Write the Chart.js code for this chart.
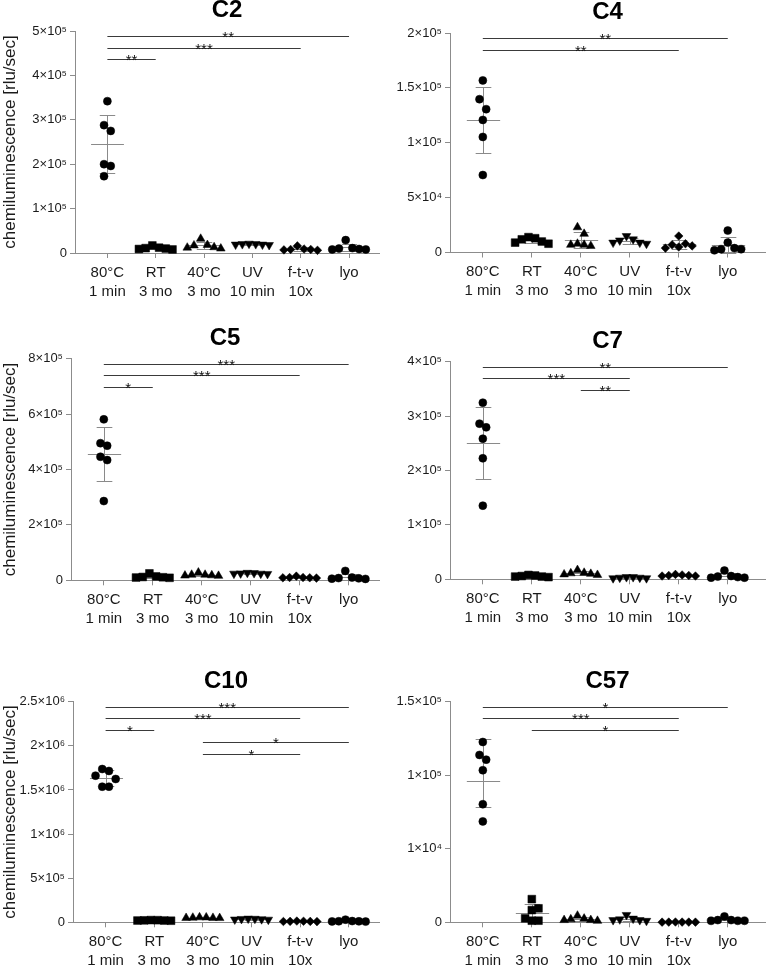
<!DOCTYPE html>
<html>
<head>
<meta charset="utf-8">
<script src="https://cdn.jsdelivr.net/npm/chart.js@4.4.1/dist/chart.umd.min.js"></script>
<style>
  html, body { margin: 0; padding: 0; background: #fff; }
  #wrap { position: relative; width: 771px; height: 966px; overflow: hidden; }
  #wrap canvas { position: absolute; }
</style>
</head>
<body>
<div id="wrap"></div>
<script>
// categories (x axis, two-line labels)
const groups = [['80°C', '1 min'], ['RT', '3 mo'], ['40°C', '3 mo'], ['UV', '10 min'], ['f-t-v', '10x'], ['lyo']];

// C2 - one row per group, six replicates each
const c2Values = [
  [3.42e5, 2.88e5, 2.75e5, 2.00e5, 1.96e5, 1.73e5],
  [1.7e4, 1.0e4, 0.9e4, 1.1e4, 0.8e4, 1.2e4],
  [1.0e4, 1.3e4, 1.2e4, 3.2e4, 1.8e4, 1.7e4],
  [2.0e4, 1.9e4, 2.1e4, 1.8e4, 2.0e4, 1.9e4],
  [0.6e4, 0.8e4, 0.7e4, 1.6e4, 0.9e4, 0.8e4],
  [2.9e4, 0.8e4, 0.9e4, 1.0e4, 1.1e4, 0.8e4]
];
const c2Ticks = [0, 1e5, 2e5, 3e5, 4e5, 5e5];
const c2Stars = [[0, 5, '**'], [0, 4, '***'], [0, 1, '**']];

// C4
const c4Values = [
  [1.568e5, 1.397e5, 1.306e5, 1.208e5, 1.053e5, 0.706e5],
  [1.0e4, 0.8e4, 1.4e4, 1.2e4, 0.9e4, 1.3e4],
  [2.3e4, 1.7e4, 0.7e4, 0.7e4, 0.6e4, 0.8e4],
  [1.1e4, 0.9e4, 0.8e4, 1.2e4, 1.5e4, 0.9e4],
  [0.8e4, 0.4e4, 0.6e4, 0.7e4, 1.5e4, 0.5e4],
  [2.0e4, 0.9e4, 0.3e4, 0.2e4, 0.3e4, 0.4e4]
];
const c4Ticks = [0, 5e4, 1e5, 1.5e5, 2e5];
const c4Stars = [[0, 5, '**'], [0, 4, '**']];

// C5
const c5Values = [
  [5.81e5, 4.95e5, 4.86e5, 4.46e5, 4.34e5, 2.86e5],
  [1.0e4, 1.2e4, 0.9e4, 1.4e4, 2.5e4, 1.1e4],
  [1.6e4, 1.8e4, 2.0e4, 2.8e4, 1.7e4, 2.0e4],
  [2.4e4, 2.6e4, 2.3e4, 2.7e4, 2.5e4, 2.4e4],
  [0.8e4, 1.0e4, 0.9e4, 1.5e4, 0.9e4, 1.0e4],
  [3.4e4, 0.6e4, 0.5e4, 0.7e4, 0.8e4, 1.0e4]
];
const c5Ticks = [0, 2e5, 4e5, 6e5, 8e5];
const c5Stars = [[0, 5, '***'], [0, 4, '***'], [0, 1, '*']];

// C7
const c7Values = [
  [3.247e5, 2.861e5, 2.793e5, 2.585e5, 2.224e5, 1.354e5],
  [0.5e4, 0.6e4, 0.4e4, 0.8e4, 0.7e4, 0.5e4],
  [0.9e4, 1.2e4, 0.8e4, 1.7e4, 1.0e4, 1.1e4],
  [0.2e4, 0.3e4, 0.3e4, 0.4e4, 0.2e4, 0.4e4],
  [0.6e4, 0.8e4, 0.7e4, 0.9e4, 0.6e4, 0.7e4],
  [1.6e4, 0.3e4, 0.4e4, 0.3e4, 0.5e4, 0.6e4]
];
const c7Ticks = [0, 1e5, 2e5, 3e5, 4e5];
const c7Stars = [[0, 5, '**'], [0, 3, '***'], [2, 3, '**']];

// C10
const c10Values = [
  [1.737e6, 1.715e6, 1.662e6, 1.624e6, 1.537e6, 1.537e6],
  [2.0e4, 2.5e4, 1.8e4, 2.2e4, 2.4e4, 2.0e4],
  [5.0e4, 5.5e4, 4.8e4, 5.2e4, 5.6e4, 4.9e4],
  [3.5e4, 4.0e4, 3.0e4, 3.8e4, 4.2e4, 3.2e4],
  [1.0e4, 0.8e4, 1.2e4, 0.9e4, 1.4e4, 1.1e4],
  [3.0e4, 1.0e4, 0.8e4, 1.2e4, 1.4e4, 1.1e4]
];
const c10Ticks = [0, 5e5, 1e6, 1.5e6, 2e6, 2.5e6];
const c10Stars = [[0, 5, '***'], [0, 4, '***'], [0, 1, '*'], [2, 5, '*'], [2, 4, '*']];

// C57 (segmented y axis: each tick interval gets the same height)
const c57Values = [
  [1.226e5, 1.138e5, 1.106e5, 1.034e5, 6.45e4, 4.35e4],
  [3150, 1900, 1660, 540, 220, 220],
  [500, 300, 200, 900, 400, 300],
  [300, 200, 400, 1000, 300, 500],
  [30, 20, 40, 30, 20, 30],
  [200, 300, 200, 800, 300, 200]
];
const c57Ticks = [0, 1e4, 1e5, 1.5e5];
const c57Stars = [[0, 5, '*'], [0, 4, '***'], [1, 4, '*']];

const yTitle = 'chemiluminescence [rlu/sec]';

// ---- styling ----
const FONT = "'Liberation Sans', Arial, sans-serif";
const AXIS = '#8c8c8c';
const INK = '#1a1a1a';
const shapes = ['circle', 'rect', 'triangle', 'triangle', 'rectRot', 'circle'];
const rotations = [0, 0, 0, 180, 0, 0];
const radii = [4, 5.5, 5, 5, 4.3, 4];
const X_MIN = -0.67;

Chart.defaults.font.family = FONT;

const LinearScale = Chart.LinearScale || Chart.scales.LinearScale;
class SegmentedScale extends LinearScale {
  static id = 'segmented';
  getPixelForValue(value) {
    return this.getPixelForDecimal(segDecimal(c57Ticks, value));
  }
}
Chart.register(SegmentedScale);

function segDecimal(b, value) {
  const n = b.length - 1;
  const v = Math.max(b[0], Math.min(b[n], value));
  let i = 0;
  while (i < n - 1 && v > b[i + 1]) i++;
  return (i + (v - b[i]) / (b[i + 1] - b[i])) / n;
}

const supDigits = { '0': '⁰', '1': '¹', '2': '²', '3': '³', '4': '⁴', '5': '⁵', '6': '⁶', '7': '⁷', '8': '⁸', '9': '⁹' };
function sci(v) {
  if (v === 0) return '0';
  const e = Math.floor(Math.log10(v) + 1e-9);
  const m = Math.round(v / Math.pow(10, e) * 10) / 10;
  return m + '×10' + String(e).split('').map(c => supDigits[c]).join('');
}

// simple beeswarm: push points that sit too close sideways, then centre each cluster
function swarm(values, toPx, unitPx, step, vThr) {
  const order = values.map((v, i) => i).sort((a, b) => values[b] - values[a]);
  const placed = [];
  const off = values.map(() => 0);
  const py = values.map(v => toPx(v));
  for (const i of order) {
    for (let k = 0; k < 30; k++) {
      const c = (k % 2 ? 1 : -1) * Math.ceil(k / 2) * step;
      const hit = placed.some(p => Math.abs(p.x - c) < step * 0.99 && Math.abs(p.y - py[i]) < vThr);
      if (!hit) {
        off[i] = c;
        placed.push({ x: c, y: py[i] });
        break;
      }
    }
  }
  const byY = values.map((v, i) => i).sort((a, b) => py[a] - py[b]);
  let cluster = [byY[0]];
  const flush = () => {
    const xs = cluster.map(i => off[i]);
    const shift = (Math.min(...xs) + Math.max(...xs)) / 2;
    cluster.forEach(i => { off[i] -= shift; });
  };
  for (let k = 1; k < byY.length; k++) {
    if (py[byY[k]] - py[byY[k - 1]] < vThr) cluster.push(byY[k]);
    else { flush(); cluster = [byY[k]]; }
  }
  flush();
  return off.map(o => o / unitPx);
}

function errorBarPlugin() {
  return {
    id: 'errorBars',
    beforeDatasetsDraw(chart) {
      const { ctx, scales: { x, y } } = chart;
      ctx.save();
      ctx.strokeStyle = '#8a8a8a';
      ctx.lineWidth = 1;
      chart.data.datasets.forEach(ds => {
        const vals = ds.values;
        const n = vals.length;
        const mean = vals.reduce((a, b) => a + b, 0) / n;
        const sd = Math.sqrt(vals.reduce((a, b) => a + (b - mean) * (b - mean), 0) / (n - 1));
        const cx = Math.round(x.getPixelForValue(ds.group)) + 0.5;
        const ym = Math.round(y.getPixelForValue(mean)) + 0.5;
        const yt = Math.round(y.getPixelForValue(mean + sd)) + 0.5;
        const yb = Math.round(y.getPixelForValue(Math.max(mean - sd, 0))) + 0.5;
        const mw = x.getPixelForValue(ds.group + 0.34) - x.getPixelForValue(ds.group);
        const cw = x.getPixelForValue(ds.group + 0.16) - x.getPixelForValue(ds.group);
        ctx.beginPath();
        ctx.moveTo(cx - mw, ym); ctx.lineTo(cx + mw, ym);
        ctx.moveTo(cx, yt); ctx.lineTo(cx, yb);
        ctx.moveTo(cx - cw, yt); ctx.lineTo(cx + cw, yt);
        ctx.moveTo(cx - cw, yb); ctx.lineTo(cx + cw, yb);
        ctx.stroke();
      });
      ctx.restore();
    }
  };
}

function starsPlugin(pairs) {
  return {
    id: 'stars',
    afterDatasetsDraw(chart) {
      const { ctx, chartArea, scales: { x } } = chart;
      ctx.save();
      ctx.strokeStyle = '#3a3a3a';
      ctx.fillStyle = '#111';
      ctx.lineWidth = 1;
      ctx.font = '15px ' + FONT;
      ctx.textAlign = 'center';
      ctx.textBaseline = 'alphabetic';
      pairs.forEach(([a, b, label], k) => {
        const yy = Math.round(chartArea.top + 5 + k * 11.7) + 0.5;
        const x1 = x.getPixelForValue(a);
        const x2 = x.getPixelForValue(b);
        ctx.beginPath();
        ctx.moveTo(x1, yy); ctx.lineTo(x2, yy);
        ctx.stroke();
        ctx.fillText(label, (x1 + x2) / 2, yy + 5);
      });
      ctx.restore();
    }
  };
}

const panels = [
  { name: 'C2', values: c2Values, ticks: c2Ticks, stars: c2Stars, yTitle: true,
    box: { left: 0, width: 385, axisX: 75, right: 383, plotTop: 31, zero: 253, xMax: 5.62 } },
  { name: 'C4', values: c4Values, ticks: c4Ticks, stars: c4Stars, yTitle: false,
    box: { left: 385, width: 386, axisX: 450, right: 771, plotTop: 33, zero: 252.5, xMax: 5.76 } },
  { name: 'C5', values: c5Values, ticks: c5Ticks, stars: c5Stars, yTitle: true,
    box: { left: 0, width: 385, axisX: 71, right: 383, plotTop: 358.7, zero: 580.3, xMax: 5.62 } },
  { name: 'C7', values: c7Values, ticks: c7Ticks, stars: c7Stars, yTitle: false,
    box: { left: 385, width: 386, axisX: 450, right: 771, plotTop: 361.7, zero: 579.3, xMax: 5.76 } },
  { name: 'C10', values: c10Values, ticks: c10Ticks, stars: c10Stars, yTitle: true,
    box: { left: 0, width: 385, axisX: 73, right: 383, plotTop: 701.7, zero: 922.3, xMax: 5.62 } },
  { name: 'C57', values: c57Values, ticks: c57Ticks, stars: c57Stars, yTitle: false, segmented: true,
    box: { left: 385, width: 386, axisX: 450, right: 771, plotTop: 701.7, zero: 922.3, xMax: 5.76 } }
];

function makePanel(p) {
  const b = p.box;
  const top = Math.round(b.plotTop - 36);
  const bottom = Math.min(966, Math.round(b.zero + 50));
  const h = bottom - top;
  const xAxisH = bottom - b.zero;
  const plotH = b.zero - b.plotTop;
  const yMax = p.ticks[p.ticks.length - 1];
  const unitPx = (b.right - b.axisX) / (b.xMax - X_MIN);
  const toPx = p.segmented ? (v => segDecimal(p.ticks, v) * plotH) : (v => v / yMax * plotH);

  const canvas = document.createElement('canvas');
  canvas.width = b.width;
  canvas.height = h;
  canvas.style.left = b.left + 'px';
  canvas.style.top = top + 'px';
  canvas.style.width = b.width + 'px';
  canvas.style.height = h + 'px';
  document.getElementById('wrap').appendChild(canvas);

  const datasets = p.values.map((vals, g) => {
    const offs = swarm(vals, toPx, unitPx, 6.8, 10.5);
    return {
      label: groups[g].join(' '),
      group: g,
      values: vals,
      data: vals.map((v, i) => ({ x: g + offs[i], y: v })),
      pointStyle: shapes[g],
      rotation: rotations[g],
      pointRadius: radii[g],
      pointBackgroundColor: '#000',
      pointBorderColor: '#000',
      pointBorderWidth: 0.5,
      clip: false
    };
  });

  return new Chart(canvas, {
    type: 'scatter',
    data: { datasets },
    options: {
      responsive: false,
      animation: false,
      events: [],
      devicePixelRatio: 1,
      layout: { padding: { left: 0, right: b.left + b.width - b.right, top: 0, bottom: 0 } },
      plugins: {
        legend: { display: false },
        tooltip: { enabled: false },
        title: {
          display: true,
          text: p.name,
          fullSize: false,
          color: '#000',
          font: { size: 24, weight: 'bold', lineHeight: 1.2 },
          padding: { top: b.plotTop - top - 34.8, bottom: 6 }
        }
      },
      scales: {
        x: {
          type: 'linear',
          min: X_MIN,
          max: b.xMax,
          afterFit: s => { s.height = xAxisH; },
          afterBuildTicks: s => { s.ticks = groups.map((gr, i) => ({ value: i })); },
          ticks: {
            callback: v => groups[v],
            color: INK,
            font: { size: 15, lineHeight: 1.27 },
            padding: 5,
            maxRotation: 0,
            autoSkip: false
          },
          grid: { drawOnChartArea: false, drawTicks: true, tickLength: 5, color: AXIS },
          border: { color: AXIS, width: 1 }
        },
        y: {
          type: p.segmented ? 'segmented' : 'linear',
          min: 0,
          max: yMax,
          afterFit: s => { s.width = b.axisX - b.left; },
          afterBuildTicks: s => { s.ticks = p.ticks.map(v => ({ value: v })); },
          ticks: { callback: v => sci(v), color: INK, font: { size: 13 }, padding: 3 },
          grid: { drawOnChartArea: false, drawTicks: true, tickLength: 5, color: AXIS },
          border: { color: AXIS, width: 1 },
          title: { display: p.yTitle, text: yTitle, color: INK, font: { size: 17 }, padding: 0 }
        }
      }
    },
    plugins: [errorBarPlugin(), starsPlugin(p.stars)]
  });
}

panels.forEach(makePanel);
</script>
</body>
</html>
